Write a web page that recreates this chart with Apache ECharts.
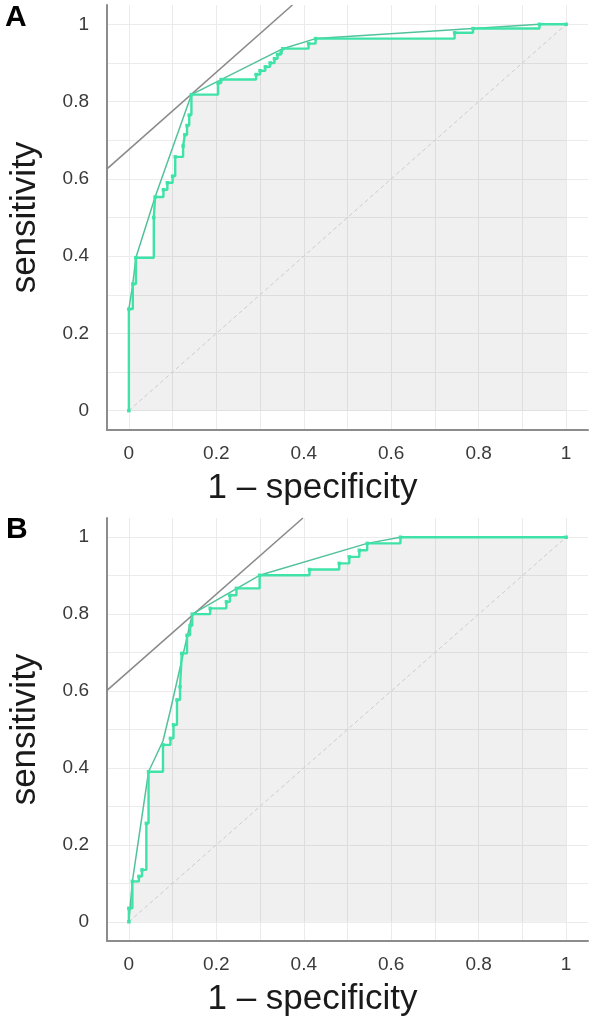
<!DOCTYPE html>
<html>
<head>
<meta charset="utf-8">
<script src="https://cdn.jsdelivr.net/npm/echarts@6/dist/echarts.min.js"></script>
<style>
html,body{margin:0;padding:0;background:#fff;}
#chart{width:596px;height:1028px;}
</style>
</head>
<body>
<div id="chart"></div>
<script>
// ---- data ----
const panelLabels = ['A', 'B'];
const xTitle = '1 \u2013 specificity';
const yTitle = 'sensitivity';
const labelTicks = [0, 0.2, 0.4, 0.6, 0.8, 1];
const gridTicks = [0, 0.1, 0.2, 0.3, 0.4, 0.5, 0.6, 0.7, 0.8, 0.9, 1];

// ROC corner points (1-specificity, sensitivity), panel A
const rocA = [
  [0, 0], [0, 0.263], [0.009, 0.328], [0.016, 0.396], [0.057, 0.50], [0.060, 0.553],
  [0.079, 0.572], [0.088, 0.590], [0.100, 0.607], [0.106, 0.657], [0.124, 0.685],
  [0.128, 0.714], [0.133, 0.738], [0.138, 0.765], [0.143, 0.818], [0.204, 0.848],
  [0.211, 0.857], [0.291, 0.870], [0.300, 0.880], [0.312, 0.890], [0.323, 0.900],
  [0.333, 0.911], [0.340, 0.922], [0.348, 0.928], [0.352, 0.937], [0.411, 0.950],
  [0.427, 0.963], [0.745, 0.978], [0.787, 0.989], [0.939, 1.0], [1, 1]
];
const hullA = [
  [0, 0], [0, 0.263], [0.009, 0.328], [0.016, 0.396], [0.060, 0.553], [0.143, 0.818],
  [0.211, 0.857], [0.352, 0.937], [0.427, 0.963], [0.787, 0.989], [0.939, 1.0], [1, 1]
];
const tangentA = [[-0.05, 0.626], [0.374, 1.05]];

// panel B
const rocB = [
  [0, 0], [0, 0.035], [0.008, 0.105], [0.023, 0.118], [0.030, 0.135], [0.040, 0.256],
  [0.045, 0.390], [0.078, 0.460], [0.095, 0.477], [0.102, 0.512], [0.110, 0.577],
  [0.117, 0.611], [0.121, 0.698], [0.133, 0.745], [0.140, 0.770], [0.145, 0.800],
  [0.186, 0.815], [0.223, 0.832], [0.231, 0.849], [0.246, 0.867], [0.299, 0.901],
  [0.413, 0.916], [0.481, 0.932], [0.504, 0.949], [0.527, 0.966], [0.545, 0.984],
  [0.621, 1.0], [1, 1]
];
const hullB = [
  [0, 0], [0.008, 0.105], [0.045, 0.390], [0.078, 0.470], [0.095, 0.550], [0.121, 0.680],
  [0.145, 0.800], [0.299, 0.901], [0.545, 0.984], [0.621, 1.0], [1, 1]
];
const tangentB = [[-0.05, 0.602], [0.398, 1.05]];

const diagonal = [[0, 0], [1, 1]];

// ---- styling / layout ----
const FONT = "'Liberation Sans', Arial, Helvetica, sans-serif";
const STEP_COLOR = '#3fe3a8';
const HULL_COLOR = '#52c29b';
const grids = [
  {left: 106, top: 5, width: 482, height: 425},
  {left: 102, top: 518, width: 486, height: 423}
];

function axisX(i) {
  return {
    type: 'value', gridIndex: i, min: -0.05, max: 1.05,
    axisLine: {show: true, onZero: false, lineStyle: {color: '#8c8c8c', width: 2}},
    axisTick: {show: false, customValues: gridTicks},
    axisLabel: {customValues: labelTicks, margin: 14, fontSize: 19, color: '#3a3a3a', fontFamily: FONT,
      formatter: v => String(v)},
    splitLine: {show: true, lineStyle: {color: '#ebebeb', width: 1}},
    name: xTitle, nameLocation: 'middle', nameGap: 41,
    nameTextStyle: {fontSize: 35, color: '#1a1a1a', fontFamily: FONT, padding: [0, 70, 0, 0]}
  };
}
function axisY(i) {
  return {
    type: 'value', gridIndex: i, min: -0.05, max: 1.05,
    axisLine: {show: true, onZero: false, lineStyle: {color: '#8c8c8c', width: 2}},
    axisTick: {show: false, customValues: gridTicks},
    axisLabel: {customValues: labelTicks, margin: 18, fontSize: 19, color: '#3a3a3a', fontFamily: FONT,
      formatter: v => String(v)},
    splitLine: {show: true, lineStyle: {color: '#ebebeb', width: 1}},
    name: yTitle, nameLocation: 'middle', nameGap: 64,
    nameTextStyle: {fontSize: 35, color: '#1a1a1a', fontFamily: FONT}
  };
}

function panelSeries(i, roc, hull, tangent) {
  return [
    {type: 'line', xAxisIndex: i, yAxisIndex: i, data: roc, step: 'end', symbol: 'none',
      lineStyle: {width: 0, opacity: 0}, areaStyle: {color: 'rgba(0,0,0,0.06)', opacity: 1}, z: 1, silent: true},
    {type: 'line', xAxisIndex: i, yAxisIndex: i, data: diagonal, symbol: 'none',
      lineStyle: {color: '#cccccc', width: 1, type: [4, 3]}, z: 2, silent: true},
    {type: 'line', xAxisIndex: i, yAxisIndex: i, data: tangent, symbol: 'none',
      lineStyle: {color: '#8a8a8a', width: 1.6}, z: 3, silent: true},
    {type: 'line', xAxisIndex: i, yAxisIndex: i, data: hull, symbol: 'none',
      lineStyle: {color: HULL_COLOR, width: 1.5}, z: 4, silent: true},
    {type: 'line', xAxisIndex: i, yAxisIndex: i, data: roc, step: 'end', symbol: 'rect', symbolSize: 3.5,
      itemStyle: {color: STEP_COLOR}, lineStyle: {color: STEP_COLOR, width: 2.4}, z: 5, silent: true}
  ];
}

const chart = echarts.init(document.getElementById('chart'), null, {renderer: 'canvas'});
chart.setOption({
  backgroundColor: '#ffffff',
  animation: false,
  title: [
    {text: panelLabels[0], left: 5, top: 3, padding: 0, textStyle: {fontSize: 30, fontWeight: 'bold', color: '#000', fontFamily: FONT}},
    {text: panelLabels[1], left: 6, top: 515, padding: 0, textStyle: {fontSize: 30, fontWeight: 'bold', color: '#000', fontFamily: FONT}}
  ],
  grid: grids,
  xAxis: [axisX(0), axisX(1)],
  yAxis: [axisY(0), axisY(1)],
  series: [].concat(panelSeries(0, rocA, hullA, tangentA), panelSeries(1, rocB, hullB, tangentB))
});
</script>
</body>
</html>
